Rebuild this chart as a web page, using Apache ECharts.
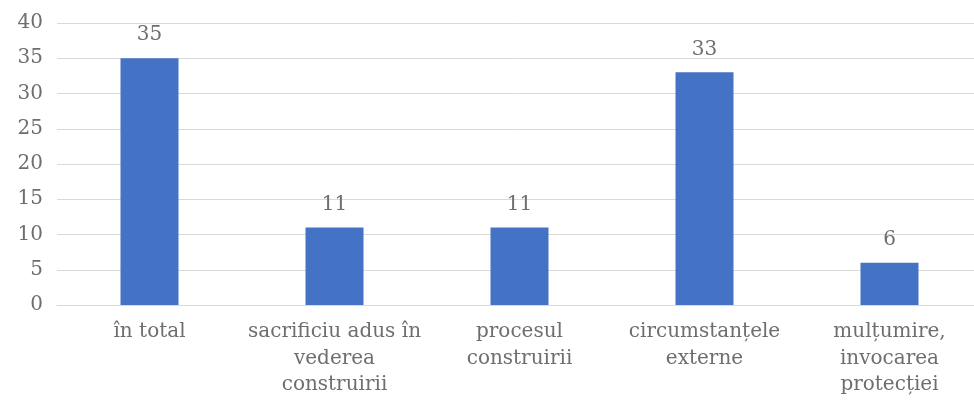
<!DOCTYPE html>
<html>
<head>
<meta charset="utf-8">
<script src="https://cdn.jsdelivr.net/npm/echarts@6/dist/echarts.min.js"></script>
<style>
  html, body { margin: 0; padding: 0; background: #fff; overflow: hidden; }
  /* plot area continues a few px past the right edge, like in the source */
  #chart { width: 982px; height: 403px; }
</style>
</head>
<body>
<div id="chart"></div>
<script>
  // categorii si valori
  const categories = [
    'în total',
    'sacrificiu adus în\nvederea\nconstruirii',
    'procesul\nconstruirii',
    'circumstanțele\nexterne',
    'mulțumire,\ninvocarea\nprotecției'
  ];
  const values = [35, 11, 11, 33, 6];
  const yMin = 0, yMax = 40, yStep = 5;

  const font = 'DejaVu Serif';
  const gray = '#6e6e6e';

  let chart = echarts.init(document.getElementById('chart'));
  chart.setOption({
    animation: false,
    grid: { left: 57, right: 0, top: 23, bottom: 98 },
    xAxis: {
      type: 'category',
      data: categories,
      axisTick: { show: false },
      axisLine: { lineStyle: { color: '#d9d9d9', width: 1 } },
      axisLabel: {
        color: gray,
        fontFamily: font,
        fontSize: 20,
        lineHeight: 26.5,
        margin: 14,
        interval: 0
      }
    },
    yAxis: {
      type: 'value',
      min: yMin,
      max: yMax,
      interval: yStep,
      axisLine: { show: false },
      axisTick: { show: false },
      splitLine: { lineStyle: { color: '#d9d9d9', width: 1 } },
      axisLabel: {
        color: gray,
        fontFamily: font,
        fontSize: 20,
        margin: 14
      }
    },
    series: [
      {
        type: 'bar',
        data: values,
        barWidth: 58,
        itemStyle: { color: '#4472C4' },
        label: {
          show: true,
          position: 'top',
          distance: 13,
          color: gray,
          fontFamily: font,
          fontSize: 20
        }
      }
    ]
  });
</script>
</body>
</html>
